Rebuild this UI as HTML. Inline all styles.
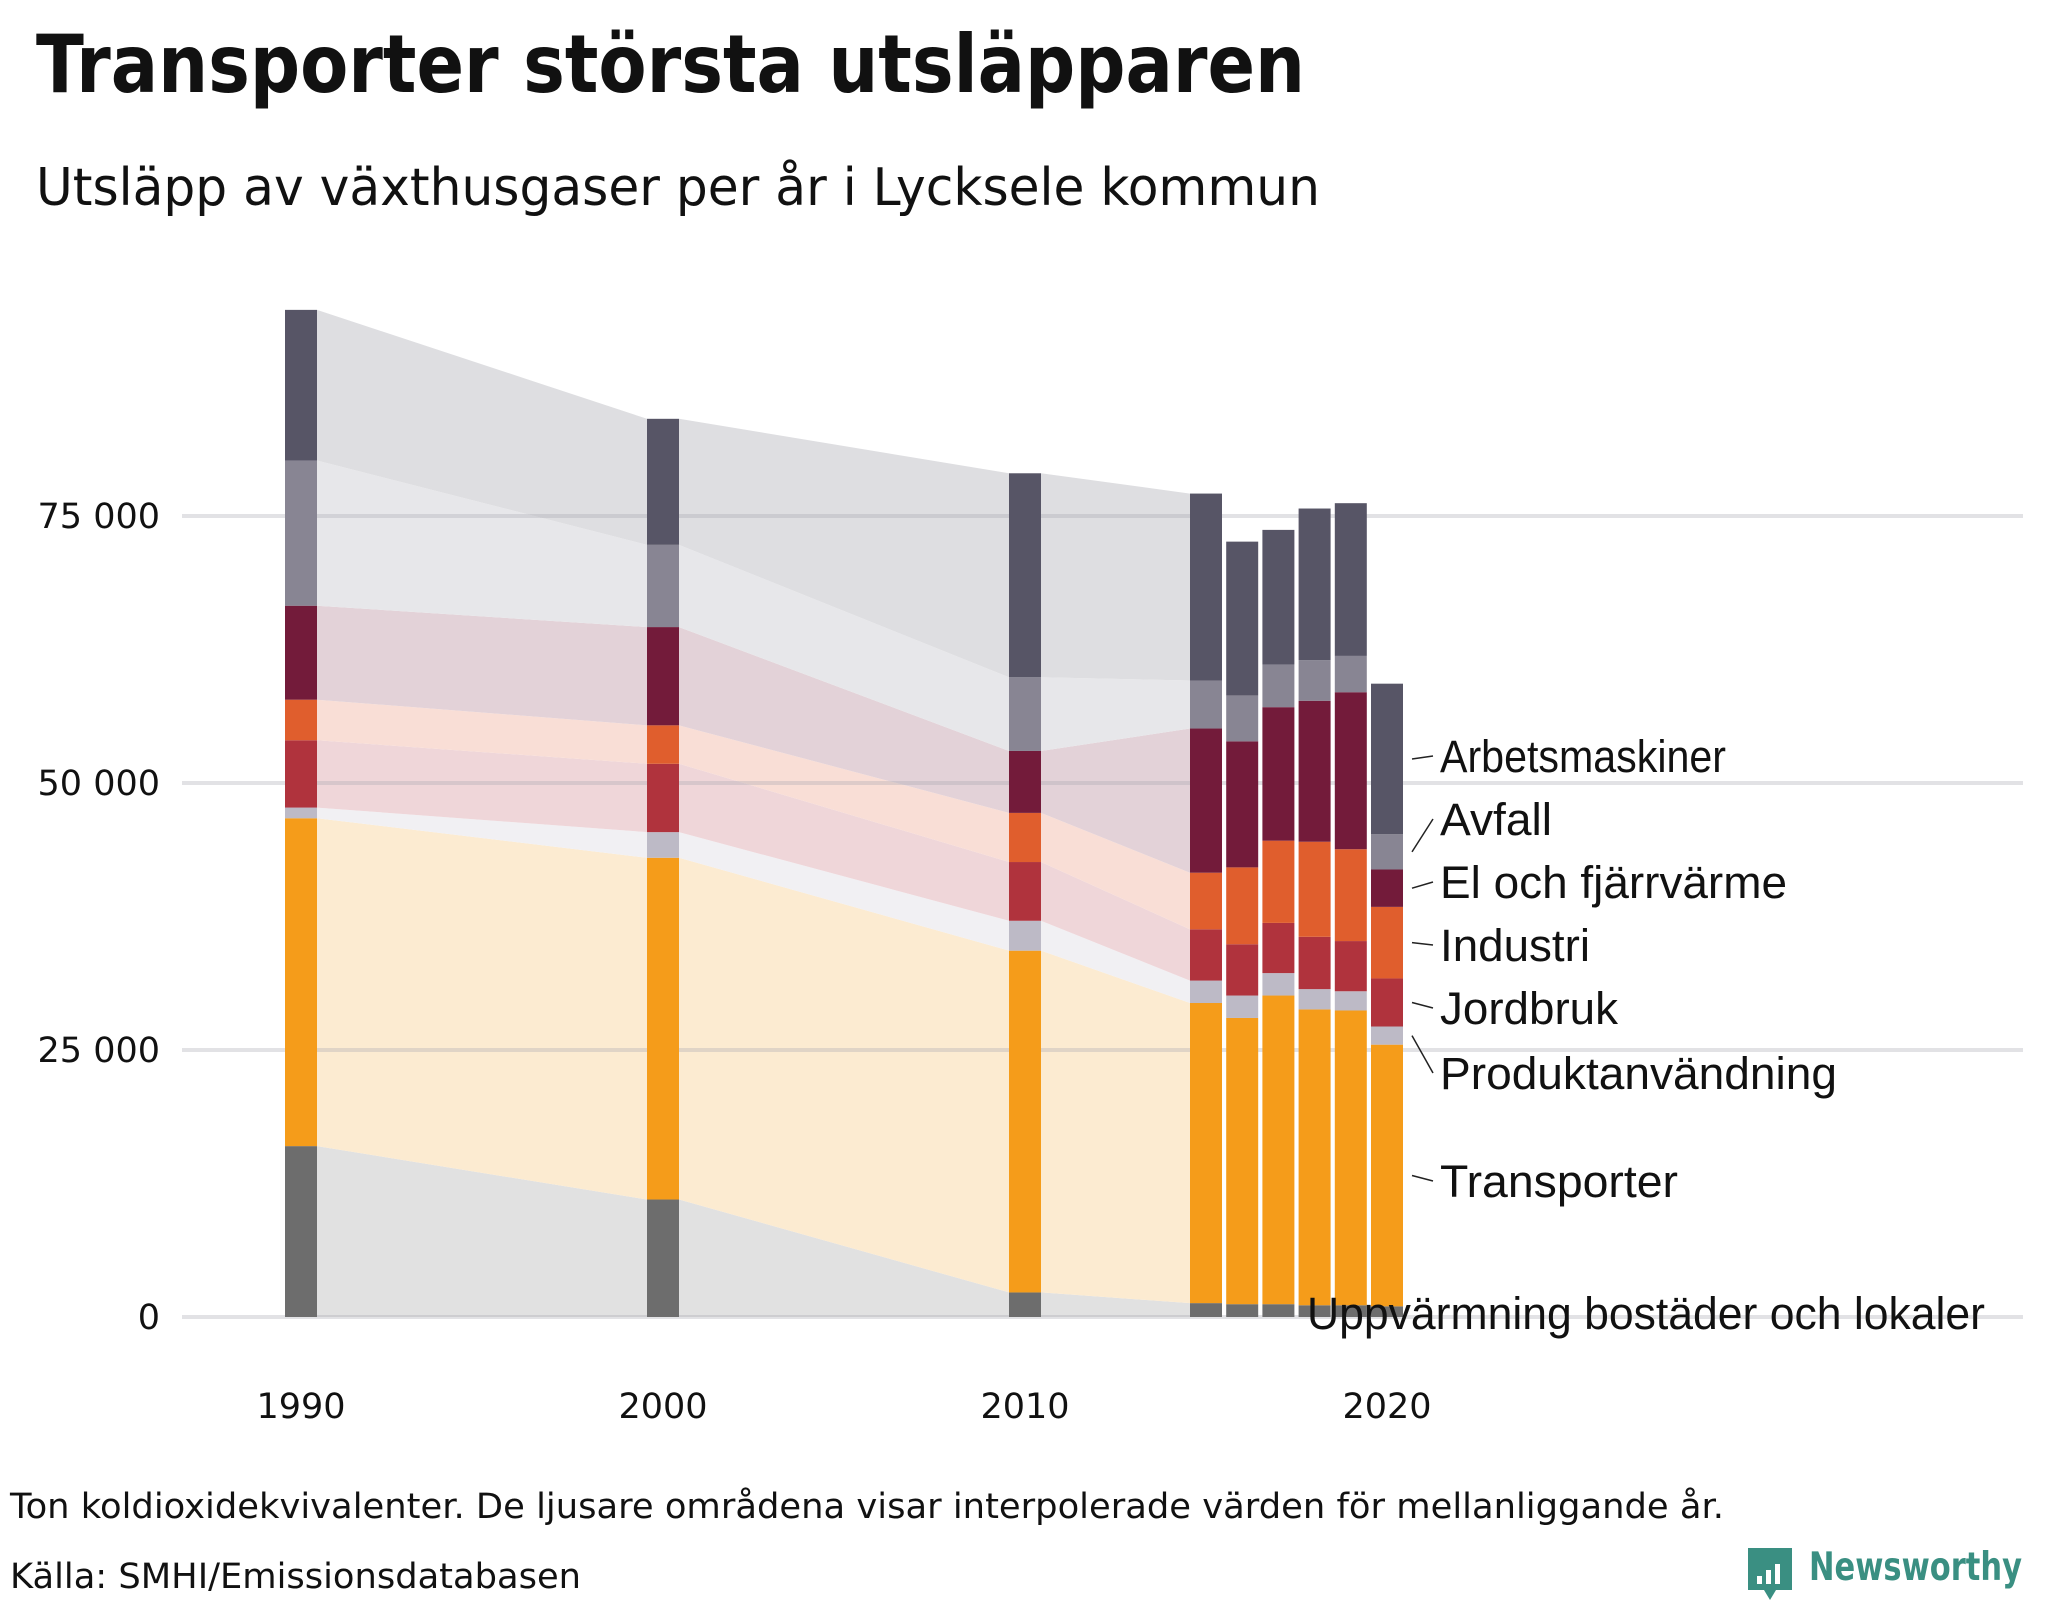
<!DOCTYPE html>
<html><head><meta charset="utf-8">
<style>
html,body{margin:0;padding:0;background:#fff;}
svg{display:block;}
text{font-family:"DejaVu Sans","Liberation Sans",sans-serif;}
text.lab{font-family:"Liberation Sans",Arial,sans-serif;fill:#111;}
</style></head>
<body>
<svg id="chart" width="2048" height="1600" viewBox="0 0 2048 1600" xmlns="http://www.w3.org/2000/svg">
  <text x="36" y="92" font-size="80" font-weight="bold" fill="#111" textLength="1269" lengthAdjust="spacingAndGlyphs">Transporter största utsläpparen</text>
  <text x="36" y="205" font-size="52" fill="#111" textLength="1284" lengthAdjust="spacingAndGlyphs">Utsläpp av växthusgaser per år i Lycksele kommun</text>
  <g id="bands"></g>
  <g id="grid"></g>
  <g id="bars"></g>
  <g id="xaxis"></g>
  <g id="yaxis"></g>
  <g id="labels"></g>
  <text x="10" y="1518" font-size="35" fill="#111" textLength="1714" lengthAdjust="spacingAndGlyphs">Ton koldioxidekvivalenter. De ljusare områdena visar interpolerade värden för mellanliggande år.</text>
  <text x="10" y="1588" font-size="35" fill="#111" textLength="571" lengthAdjust="spacingAndGlyphs">Källa: SMHI/Emissionsdatabasen</text>
  <g>
    <path d="M1748 1548 h44 v42 h-16 l-6 10 l-6 -10 h-16 z" fill="#3a8f82"/>
    <rect x="1757" y="1576" width="5" height="8" fill="#fff"/>
    <rect x="1766" y="1570" width="5" height="14" fill="#fff"/>
    <rect x="1775" y="1564" width="5" height="20" fill="#fff"/>
    <text x="1809" y="1580" font-size="39" font-weight="bold" fill="#3a8f82" textLength="213" lengthAdjust="spacingAndGlyphs">Newsworthy</text>
  </g>
</svg>
<script>
const years = [1990, 2000, 2010, 2015, 2016, 2017, 2018, 2019, 2020];
const seriesNames = ["Uppvärmning bostäder och lokaler","Transporter","Produktanvändning","Jordbruk","Industri","El och fjärrvärme","Avfall","Arbetsmaskiner"];
const uppvarmning = [16.0, 11.0, 2.3, 1.3, 1.2, 1.2, 1.1, 1.1, 1.0];
const transporter = [30.7, 32.0, 32.0, 28.1, 26.8, 28.9, 27.7, 27.6, 24.5];
const produktanvandning = [1.0, 2.4, 2.8, 2.1, 2.1, 2.1, 1.9, 1.8, 1.7];
const jordbruk = [6.3, 6.4, 5.5, 4.8, 4.8, 4.7, 4.9, 4.7, 4.5];
const industri = [3.8, 3.6, 4.6, 5.3, 7.2, 7.7, 8.9, 8.6, 6.7];
const elFjarrvarme = [8.8, 9.2, 5.8, 13.5, 11.8, 12.5, 13.2, 14.7, 3.5];
const avfall = [13.6, 7.7, 6.9, 4.5, 4.3, 4.0, 3.8, 3.4, 3.3];
const arbetsmaskiner = [14.1, 11.8, 19.1, 17.5, 14.4, 12.6, 14.2, 14.3, 14.1];
const yTicks = [0, 25000, 50000, 75000];
const yTickLabels = ["0", "25 000", "50 000", "75 000"];
const xTicks = [1990, 2000, 2010, 2020];

const colors = ["#6d6d6d","#f59c1a","#bdbac6","#b0333d","#e05e2d","#731b3a","#888593","#575566"];
const light = ["#e1e1e1","#fcebd1","#f1f0f3","#efd6d9","#f9ded6","#e3d2d8","#e7e7ea","#dedee1"];
const series = [uppvarmning, transporter, produktanvandning, jordbruk, industri, elFjarrvarme, avfall, arbetsmaskiner];
const NS = "http://www.w3.org/2000/svg";
const xC = y => 301 + (y - 1990) * 36.2;
const yS = v => 1317 - v * 267 / 25000;
const BW = 32;
function mk(tag, attrs, parent){const e=document.createElementNS(NS,tag);for(const k in attrs)e.setAttribute(k,attrs[k]);parent.appendChild(e);return e;}

const cum = years.map((_, i) => {let s=0; const arr=[0]; series.forEach(sr=>{s+=sr[i]*1000;arr.push(s);}); return arr;});

const bands = document.getElementById('bands');
for (let i = 0; i < years.length - 1; i++) {
  const x1 = xC(years[i]) + BW/2, x2 = xC(years[i+1]) - BW/2;
  if (x2 - x1 < 6) continue;
  for (let s = 0; s < series.length; s++) {
    const p = mk('polygon', {points:`${x1},${yS(cum[i][s])} ${x2},${yS(cum[i+1][s])} ${x2},${yS(cum[i+1][s+1])} ${x1},${yS(cum[i][s+1])}`, fill: light[s]}, bands);
    
    
  }
}
const grid = document.getElementById('grid');
const yaxis = document.getElementById('yaxis');
yTicks.forEach((t, i) => {
  const l = mk('line', {x1:182, x2:2023, y1:yS(t), y2:yS(t), stroke:'rgba(165,165,175,0.32)', 'stroke-width':4}, grid);
  
  
  const tx = mk('text', {x:160, y:yS(t)+12, 'font-size':35, fill:'#111', 'text-anchor':'end'}, yaxis);
  tx.textContent = yTickLabels[i];
  
  
});
const xaxis = document.getElementById('xaxis');
xTicks.forEach(t => {
  const tx = mk('text', {x:xC(t), y:1418, 'font-size':35, fill:'#111', 'text-anchor':'middle'}, xaxis);
  tx.textContent = t;
  
  
});
const bars = document.getElementById('bars');
years.forEach((yr, i) => {
  for (let s = 0; s < series.length; s++) {
    const y1 = yS(cum[i][s+1]), y0 = yS(cum[i][s]);
    const r = mk('rect', {x:xC(yr)-BW/2, y:y1, width:BW, height:Math.max(0,y0-y1), fill:colors[s]}, bars);
    
    
  }
});
const labels = document.getElementById('labels');
const labelY = [1313, 1181, 1073, 1008, 945, 882, 819, 756];
const labelW = [678, 238, 397, 178, 150, 347, 112, 286];
const last = years.length - 1;
for (let s = series.length - 1; s >= 0; s--) {
  const ly = labelY[s];
  if (s > 0) {
    const mid = yS((cum[last][s] + cum[last][s+1]) / 2);
    const ln = mk('line', {x1:1412, y1:mid, x2:1433, y2:ly, stroke:'#222', 'stroke-width':1.5}, labels);
    
    
  }
  const tx = mk('text', {x: s === 0 ? 1307 : 1440, y: s === 0 ? 1329 : ly + 16, class:'lab', 'font-size':45, textLength:labelW[s], lengthAdjust:'spacingAndGlyphs'}, labels);
  tx.textContent = seriesNames[s];
  
  
}
</script>
</body></html>
